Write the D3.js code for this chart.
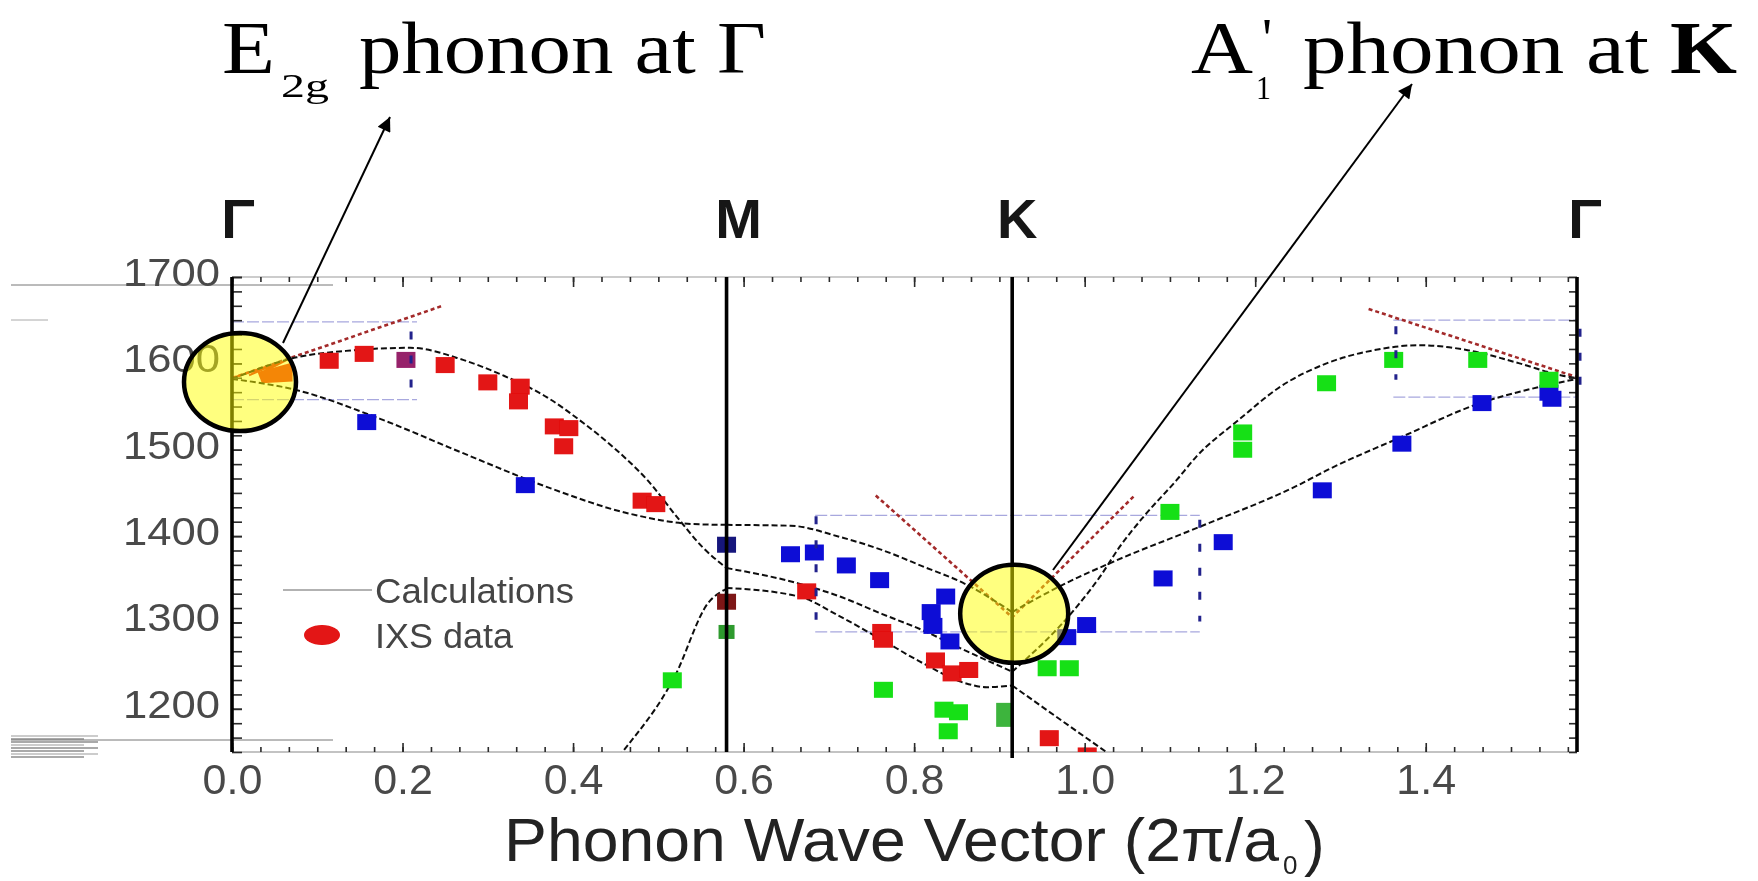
<!DOCTYPE html>
<html>
<head>
<meta charset="utf-8">
<script src="https://cdn.jsdelivr.net/npm/d3@7"></script>
<style>
  html, body { margin: 0; padding: 0; background: #fff; overflow: hidden; }
  svg { display: block; }
</style>
</head>
<body>
<svg id="chart" width="1758" height="881"></svg>
<script>
// ---- high-symmetry points along Γ–M–K–Γ (wave vector in 2π/a0) ----
const symLabels = ["Γ", "M", "K", "Γ"];
const symQ = [0, 0.580, 0.915, 1.5774];

// ---- axis ticks ----
const xTickValues = [0, 0.2, 0.4, 0.6, 0.8, 1.0, 1.2, 1.4];
const xTickLabels = ["0.0", "0.2", "0.4", "0.6", "0.8", "1.0", "1.2", "1.4"];
const yTickValues = [1200, 1300, 1400, 1500, 1600, 1700];
const yTickLabels = ["1200", "1300", "1400", "1500", "1600", "1700"];

// ---- calculated branches, [q, frequency cm^-1] ----
const toGM = [[0,1582],[0.076,1569],[0.173,1536],[0.271,1496],[0.369,1457],[0.466,1426],[0.54,1414],[0.58,1413]];
const toMK = [[0.58,1413],[0.655,1412],[0.713,1399],[0.762,1384],[0.810,1365],[0.859,1345],[0.915,1312]];
const toKG = [[0.915,1312],[0.973,1343],[1.0375,1372],[1.133,1410],[1.2525,1460],[1.2837,1476],[1.372,1515],[1.461,1553],[1.5346,1573],[1.5774,1582]];
const loGM = [[0,1582],[0.076,1607],[0.14,1615],[0.209,1618],[0.271,1604],[0.318,1586],[0.369,1561],[0.408,1534],[0.447,1503],[0.487,1465],[0.522,1422],[0.552,1387],[0.58,1363]];
const loMK = [[0.58,1363],[0.665,1345],[0.713,1330],[0.762,1310],[0.810,1291],[0.859,1268],[0.915,1243]];
const loKG = [[0.915,1243],[0.9906,1318],[1.018,1353],[1.0414,1388],[1.0687,1422],[1.108,1465],[1.131,1492],[1.180,1534],[1.2295,1573],[1.2837,1600],[1.338,1615],[1.392,1621],[1.4507,1615],[1.51,1600],[1.5593,1586],[1.5774,1583]];
const laGM = [[0.44,1128],[0.458,1150],[0.519,1237],[0.558,1322],[0.58,1339]];
const laMK = [[0.58,1340],[0.665,1330],[0.713,1307],[0.762,1280],[0.810,1253],[0.859,1230],[0.885,1225],[0.915,1227]];
const laKG = [[0.915,1227],[1.011,1160],[1.04,1140]];
const branches = [toGM, toMK, toKG, loGM, loMK, loKG, laGM, laMK, laKG];

// ---- Kohn-anomaly slopes ----
const kohnGamma = [[0,1583],[0.248,1667]];
const kohnK = [[0.755,1447],[0.915,1306],[1.0585,1447]];
const kohnGammaEnd = [[1.333,1663],[1.5774,1584]];
const kohnFan = [[0,1583],[0.04,1596],[0.02,1586],[0.055,1601],[0.035,1589],[0.066,1605]];
const kohnFanFill = [[0.03,1590],[0.071,1601],[0.071,1579],[0.035,1577]];

// ---- IXS data ----
const ixsRed = [[0.114,1603],[0.155,1611],[0.250,1598],[0.300,1578],[0.338,1573],[0.336,1556],[0.378,1527],[0.395,1525],[0.389,1504],[0.481,1441],[0.497,1437],[0.674,1336],[0.762,1289],[0.764,1280],[0.825,1256],[0.8445,1241],[0.864,1245],[0.9585,1166],[1.003,1146]];
const ixsRedDark = [[0.58,1324]];
const ixsPurple = [[0.204,1604]];
const ixsBlue = [[0.158,1532],[0.344,1459],[0.655,1379],[0.683,1381],[0.7205,1366],[0.7595,1349],[0.837,1330],[0.820,1312],[0.822,1296],[0.842,1278],[0.979,1283],[1.0023,1297],[1.092,1351],[1.1625,1393],[1.2787,1453],[1.372,1507],[1.466,1554],[1.5445,1566],[1.548,1559]];
const ixsNavy = [[0.58,1390]];
const ixsGreen = [[0.5164,1233],[0.764,1222],[0.835,1199],[0.852,1196],[0.840,1174],[0.956,1247],[0.982,1247],[1.100,1428],[1.1853,1520],[1.1853,1500],[1.2837,1577],[1.3624,1604],[1.461,1604],[1.5445,1581]];
const ixsGreenDark = [[0.58,1289]];
const ixsGreenTall = [[0.905,1193]];

// ---- uncertainty frames around the highlighted modes ----
const frameQ = [[0, 0.217], [0.684, 1.135], [1.362, 1.5774]];
const frameE = [[1558, 1648], [1289, 1424], [1561, 1650]];
const barQ = [0.210, 0.685, 1.135, 1.365, 1.5774];
const barE = [[1571, 1637], [1303, 1423], [1301, 1419], [1581, 1643], [1570, 1640]];

// ---- highlighted modes ----
const markQ = [0, 0.915];
const markE = [1583, 1310];

const svg = d3.select("#chart");
const W = 1758, H = 881;
const x = d3.scaleLinear().domain([0, 1.5774]).range([232, 1577]);
const y = d3.scaleLinear().domain([1150, 1700]).range([752, 277]);
const [x0, x1] = x.range();
const [yb, yt] = y.range();

svg.append("rect").attr("width", W).attr("height", H).attr("fill", "#fff");

const defs = svg.append("defs");
defs.append("filter").attr("id", "soft")
  .attr("x", -0.05).attr("y", -0.1).attr("width", 1.1).attr("height", 1.2)
  .append("feGaussianBlur").attr("stdDeviation", 0.75);
defs.append("clipPath").attr("id", "plotClip")
  .append("rect").attr("x", x0).attr("y", yt).attr("width", x1 - x0).attr("height", yb - yt);
defs.append("marker").attr("id", "arrowHead")
  .attr("viewBox", "0 0 10 10").attr("refX", 10).attr("refY", 5)
  .attr("markerWidth", 20).attr("markerHeight", 14).attr("markerUnits", "userSpaceOnUse")
  .attr("orient", "auto")
  .append("path").attr("d", "M0,0 L10,5 L0,10 z").attr("fill", "#000");

// stray rules in the left margin
const margin = svg.append("g").attr("stroke", "#777").attr("stroke-width", 1).attr("filter", "url(#soft)");
margin.append("line").attr("x1", 11).attr("x2", 333).attr("y1", 285).attr("y2", 285);
margin.append("line").attr("x1", 11).attr("x2", 48).attr("y1", 320).attr("y2", 320).attr("stroke", "#aaa");
d3.range(0, 8).forEach(i => {
  margin.append("line").attr("x1", 11).attr("x2", i % 2 ? 84 : 98)
    .attr("y1", 736 + i * 3).attr("y2", 736 + i * 3).attr("stroke", i % 3 ? "#555" : "#999");
});
margin.append("line").attr("x1", 11).attr("x2", 333).attr("y1", 740).attr("y2", 740);

const plot = svg.append("g").attr("filter", "url(#soft)");

// frame lines
plot.append("line").attr("x1", x0).attr("x2", x1).attr("y1", yt).attr("y2", yt).attr("stroke", "#999").attr("stroke-width", 1.2);
plot.append("line").attr("x1", x0).attr("x2", x1).attr("y1", yb).attr("y2", yb).attr("stroke", "#888").attr("stroke-width", 1.2);

// uncertainty frames
const frames = plot.append("g");
frameQ.forEach((qq, i) => {
  frameE[i].forEach(e => {
    frames.append("line").attr("x1", x(qq[0])).attr("x2", x(qq[1]))
      .attr("y1", y(e)).attr("y2", y(e))
      .attr("stroke", "#a8a8de").attr("stroke-width", 1.2).attr("stroke-dasharray", "12,3");
  });
});

// Kohn-anomaly slopes
const line = d3.line().x(d => x(d[0])).y(d => y(d[1]));
const curve = d3.line().x(d => x(d[0])).y(d => y(d[1])).curve(d3.curveMonotoneX);
const kohn = plot.append("g").attr("fill", "none").attr("clip-path", "url(#plotClip)");
[kohnGamma, kohnK, kohnGammaEnd].forEach(k => {
  kohn.append("path").attr("d", line(k)).attr("stroke", "#a32a2a")
    .attr("stroke-width", 2.6).attr("stroke-dasharray", "4,3");
});
kohn.append("path").attr("d", line(kohnFan)).attr("stroke", "#e01010").attr("stroke-width", 2);
kohn.append("path").attr("d", line(kohnFanFill) + "Z").attr("fill", "#e81010").attr("stroke", "none");

// calculated branches
const calc = plot.append("g").attr("fill", "none").attr("clip-path", "url(#plotClip)");
branches.forEach(b => {
  calc.append("path").attr("d", curve(b)).attr("stroke", "#111")
    .attr("stroke-width", 2).attr("stroke-dasharray", "6,3");
});

// IXS points
const pts = plot.append("g").attr("clip-path", "url(#plotClip)");
function squares(data, color, w, h) {
  pts.selectAll(null).data(data).enter().append("rect")
    .attr("x", d => x(d[0]) - w / 2).attr("y", d => y(d[1]) - h / 2)
    .attr("width", w).attr("height", h).attr("fill", color);
}
squares(ixsRed, "#e31212", 19, 16);
squares(ixsRedDark, "#7d1616", 19, 16);
squares(ixsPurple, "#96206a", 19, 16);
squares(ixsBlue, "#1010d6", 19, 16);
squares(ixsNavy, "#16167c", 19, 16);
squares(ixsGreen, "#16e016", 19, 16);
squares(ixsGreenDark, "#2f9a2f", 16, 14);
squares(ixsGreenTall, "#3cb43c", 15, 24);

// error bars of the highlighted modes
const bars = plot.append("g");
barQ.forEach((q, i) => {
  const dx = i === barQ.length - 1 ? 3 : 0;
  bars.append("line").attr("x1", x(q) + dx).attr("x2", x(q) + dx)
    .attr("y1", y(barE[i][1])).attr("y2", y(barE[i][0]))
    .attr("stroke", "#20208c").attr("stroke-width", 3).attr("stroke-dasharray", "8,16");
});

// axes: ticks
const xMinor = d3.range(0, 1.5774 + 1e-9, 0.2 / 6);
const yMinor = d3.range(1700, 1150 - 1e-9, -100 / 6);
function styleAxis(g) {
  g.select(".domain").remove();
  g.selectAll(".tick line").attr("stroke", "#2a2a2a").attr("stroke-width", 1.6);
  g.selectAll(".tick text").filter(function () { return !this.textContent; }).remove();
}
plot.append("g").attr("transform", `translate(0,${yb})`)
  .call(d3.axisBottom(x).tickValues(xMinor).tickSize(-5).tickFormat("")).call(styleAxis);
plot.append("g").attr("transform", `translate(0,${yt})`)
  .call(d3.axisTop(x).tickValues(xMinor).tickSize(-5).tickFormat("")).call(styleAxis);
plot.append("g").attr("transform", `translate(0,${yt})`)
  .call(d3.axisTop(x).tickValues(xTickValues).tickSize(-10).tickFormat("")).call(styleAxis);
const xAxis = plot.append("g").attr("transform", `translate(0,${yb})`)
  .call(d3.axisBottom(x).tickValues(xTickValues).tickSizeInner(-9).tickSizeOuter(0)
    .tickPadding(11).tickFormat((d, i) => xTickLabels[i]))
  .call(styleAxis);
xAxis.selectAll("text").attr("font-family", "'Liberation Sans', Arial, sans-serif")
  .attr("font-size", 43).attr("fill", "#4a4a4a");

// left axis: minor ticks, then labelled major ticks
plot.append("g").attr("transform", `translate(${x0},0)`)
  .call(d3.axisLeft(y).tickValues(yMinor).tickSizeInner(-10).tickSizeOuter(0).tickFormat(""))
  .call(styleAxis);
const yAxis = plot.append("g").attr("transform", `translate(${x0},0)`)
  .call(d3.axisLeft(y).tickValues(yTickValues).tickSizeInner(-10).tickSizeOuter(0).tickPadding(12)
    .tickFormat((d, i) => yTickLabels[i]))
  .call(styleAxis);
yAxis.selectAll("text").attr("font-family", "'Liberation Sans', Arial, sans-serif")
  .attr("font-size", 38).attr("fill", "#4a4a4a").attr("dy", "0.22em")
  .attr("textLength", 97).attr("lengthAdjust", "spacingAndGlyphs");
plot.append("g").attr("transform", `translate(${x1},0)`)
  .call(d3.axisRight(y).tickValues(yMinor).tickSize(-8).tickFormat("")).call(styleAxis);

// vertical lines at the high-symmetry points
symQ.forEach((q, i) => {
  plot.append("line").attr("x1", x(q)).attr("x2", x(q))
    .attr("y1", yt).attr("y2", i === 2 ? yb + 6 : yb)
    .attr("stroke", "#000").attr("stroke-width", 3.6);
});
const symShift = [6, 12, 5, 8];
plot.selectAll(null).data(symLabels).enter().append("text")
  .attr("x", (d, i) => x(symQ[i]) + symShift[i]).attr("y", 238)
  .attr("text-anchor", "middle")
  .attr("font-family", "'Liberation Sans', Arial, sans-serif").attr("font-weight", "bold")
  .attr("font-size", 56).attr("fill", "#151515").text(d => d);

// axis title
const title = plot.append("g").attr("font-family", "'Liberation Sans', Arial, sans-serif").attr("fill", "#222");
title.append("text").attr("x", 504).attr("y", 861).attr("font-size", 62)
  .attr("textLength", 775).attr("lengthAdjust", "spacingAndGlyphs").text("Phonon Wave Vector (2π/a");
title.append("text").attr("x", 1283).attr("y", 874).attr("font-size", 26).text("0");
title.append("text").attr("x", 1304).attr("y", 864).attr("font-size", 62).text(")");

// legend
const legend = plot.append("g").attr("font-family", "'Liberation Sans', Arial, sans-serif").attr("fill", "#444");
legend.append("line").attr("x1", 283).attr("x2", 372).attr("y1", 590).attr("y2", 590).attr("stroke", "#666").attr("stroke-width", 1.2);
legend.append("text").attr("x", 375).attr("y", 590).attr("dy", "0.36em").attr("font-size", 35)
  .attr("textLength", 199).attr("lengthAdjust", "spacingAndGlyphs").text("Calculations");
legend.append("ellipse").attr("cx", 322).attr("cy", 635).attr("rx", 18).attr("ry", 10).attr("fill", "#e31212");
legend.append("text").attr("x", 375).attr("y", 635).attr("dy", "0.36em").attr("font-size", 35)
  .attr("textLength", 138).attr("lengthAdjust", "spacingAndGlyphs").text("IXS data");

// highlight ellipses over the two modes
const marks = svg.append("g");
marks.selectAll(null).data(markQ).enter().append("ellipse")
  .attr("cx", (d, i) => x(d) + (i === 0 ? 8 : 2)).attr("cy", (d, i) => y(markE[i]) + (i === 0 ? 4 : 0))
  .attr("rx", (d, i) => i === 0 ? 56 : 54).attr("ry", 49)
  .attr("fill", "#ffff00").attr("fill-opacity", 0.5)
  .attr("stroke", "#000").attr("stroke-width", 4.5);

// arrows to the annotations
const arrows = svg.append("g").attr("stroke", "#000").attr("stroke-width", 2);
arrows.append("line").attr("x1", 283).attr("y1", 343).attr("x2", 390).attr("y2", 117).attr("marker-end", "url(#arrowHead)");
arrows.append("line").attr("x1", 1053).attr("y1", 570).attr("x2", 1412).attr("y2", 84).attr("marker-end", "url(#arrowHead)");

// annotations
const ann = svg.append("g").attr("font-family", "'Liberation Serif', 'Times New Roman', serif").attr("fill", "#000");
function annText(str, px, py, size, len, bold) {
  const t = ann.append("text").attr("x", px).attr("y", py).attr("font-size", size).text(str);
  if (len) t.attr("textLength", len).attr("lengthAdjust", "spacingAndGlyphs");
  if (bold) t.attr("font-weight", "bold");
  return t;
}
annText("E", 222, 73, 73, 53);
annText("2g", 281, 97, 33, 48);
annText("phonon at Γ", 359, 73, 75, 407);
annText("A", 1191, 73, 73, 62);
annText("1", 1256, 99, 33, 15);
annText("'", 1262, 58, 56);
annText("phonon at", 1303, 73, 75, 346);
annText("K", 1670, 73, 73, 67, true);
</script>
</body>
</html>
